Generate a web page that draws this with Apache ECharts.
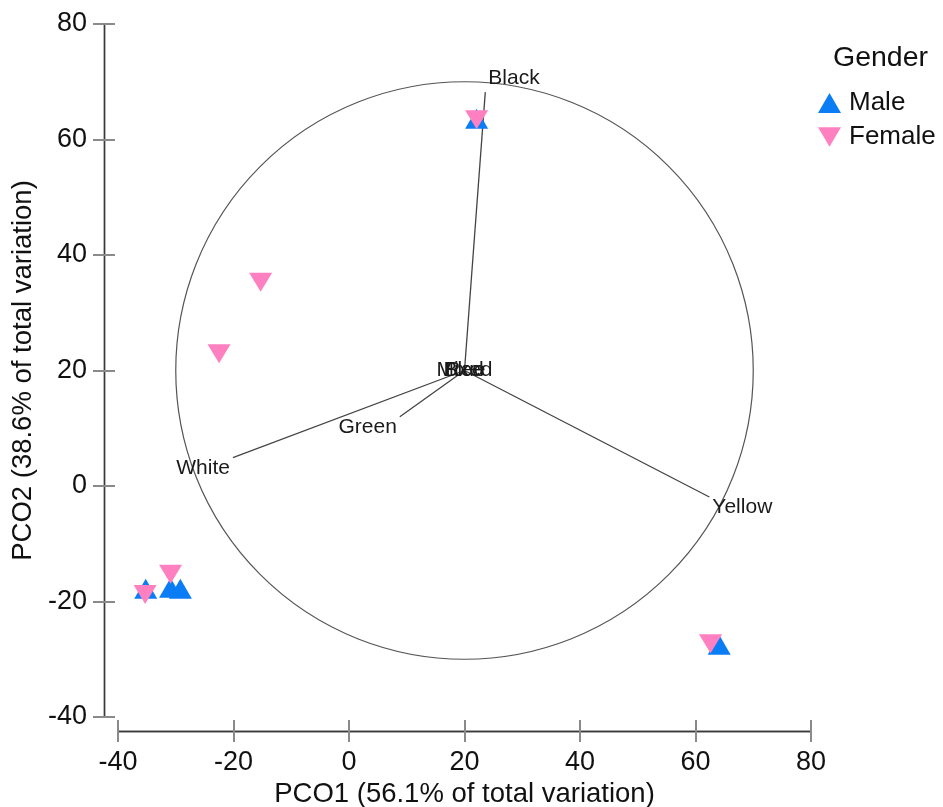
<!DOCTYPE html>
<html>
<head>
<meta charset="utf-8">
<script src="https://cdn.jsdelivr.net/npm/echarts@6/dist/echarts.min.js"></script>
<style>
  html, body { margin: 0; padding: 0; background: #ffffff; }
  #chart { width: 943px; height: 807px; }
</style>
</head>
<body>
<div id="chart"></div>
<script>
const FONT = '"Liberation Sans", Arial, sans-serif';

// PCO scores per sample, [PCO1, PCO2]
const malePoints = [[22.1, 63.6], [-35.2, -17.8], [-30.9, -17.6], [-29.2, -17.8], [64.1, -27.5]];
const femalePoints = [[22.1, 63.4], [-15.3, 35.3], [-22.5, 22.9], [-30.9, -15.3], [-35.3, -18.8], [62.6, -27.3]];

// Colour variables drawn as vectors from a common origin
const vectorNames = ['Black', 'White', 'Yellow', 'Green', 'Mixed', 'Blue', 'Red'];
const vectorEnds = [[23.6, 68.2], [-20.1, 4.9], [62.4, -1.9], [8.8, 12.0], [20, 20], [20, 20], [20, 20]];
const vectorOrigin = [20, 20];
// Reference circle: centre x, centre y, radius (axis units)
const circleSpec = [20, 20, 50];

// Axes
const xRange = [-40, 80];
const yRange = [-40, 80];
const tickStep = 20;
const xTitle = 'PCO1 (56.1% of total variation)';
const yTitle = 'PCO2 (38.6% of total variation)';
const groupNames = ['Male', 'Female'];
const legendTitle = 'Gender';

const AXIS_COLOR = '#3a3a3a';
const TICK_COLOR = '#8a8a8a';
const TEXT_COLOR = '#111111';
const MALE_COLOR = '#0a7df5';
const FEMALE_COLOR = '#ff80c0';
// Downward-pointing triangle used for the female group
const DOWN_TRIANGLE = 'path://M0,0L20,0L10,17Z';

// Each axis is drawn twice: once with outward ticks and labels, once with
// inward ticks, so every tick crosses the detached axis line.
function axisPair(range, offset, title, nameGap, labelMargin, position) {
  const base = {
    type: 'value',
    position: position,
    min: range[0],
    max: range[1],
    interval: tickStep,
    offset: offset,
    splitLine: { show: false },
    axisLine: { show: true, onZero: false, lineStyle: { color: AXIS_COLOR, width: 1.4 } }
  };
  return [
    Object.assign({}, base, {
      name: title,
      nameLocation: 'middle',
      nameGap: nameGap,
      nameTextStyle: { fontFamily: FONT, fontSize: 27.5, color: TEXT_COLOR },
      axisTick: { show: true, inside: false, length: 11, lineStyle: { color: TICK_COLOR, width: 2 } },
      axisLabel: { show: true, margin: labelMargin, fontFamily: FONT, fontSize: 27, color: TEXT_COLOR }
    }),
    Object.assign({}, base, {
      axisTick: { show: true, inside: true, length: 11, lineStyle: { color: TICK_COLOR, width: 2 } },
      axisLabel: { show: false }
    })
  ];
}

const chart = echarts.init(document.getElementById('chart'), null, { renderer: 'canvas' });

chart.setOption({
  animation: false,
  backgroundColor: '#ffffff',
  title: {
    text: legendTitle,
    left: 828,
    top: 39,
    textStyle: { fontFamily: FONT, fontSize: 28.5, fontWeight: 'normal', color: TEXT_COLOR }
  },
  legend: {
    data: groupNames,
    orient: 'vertical',
    left: 813,
    top: 85,
    itemWidth: 23,
    itemHeight: 20,
    itemGap: 8,
    textStyle: { fontFamily: FONT, fontSize: 26, lineHeight: 20, color: TEXT_COLOR, padding: [0, 0, 0, 3] }
  },
  grid: { left: 118, right: 132, top: 24, bottom: 90, outerBoundsMode: 'none', containLabel: false },
  xAxis: axisPair(xRange, 14, xTitle, 49, 18, 'bottom'),
  yAxis: axisPair(yRange, 14, yTitle, 58, 17, 'left'),
  series: [
    {
      name: 'circle',
      type: 'custom',
      silent: true,
      z: 1,
      data: [circleSpec],
      renderItem: function (params, api) {
        const c = api.coord([api.value(0), api.value(1)]);
        const s = api.size([api.value(2), api.value(2)]);
        return {
          type: 'circle',
          shape: { cx: c[0], cy: c[1], r: (s[0] + s[1]) / 2 },
          style: { fill: 'none', stroke: '#555555', lineWidth: 1.2 }
        };
      }
    },
    {
      name: 'vectors',
      type: 'custom',
      silent: true,
      z: 2,
      data: vectorEnds.map(function (e, i) { return { name: vectorNames[i], value: e }; }),
      renderItem: function (params, api) {
        const ex = api.value(0), ey = api.value(1);
        const o = api.coord(vectorOrigin);
        const e = api.coord([ex, ey]);
        const dx = ex - vectorOrigin[0], dy = ey - vectorOrigin[1];
        let align = 'center', vAlign = 'middle', tx = e[0], ty = e[1];
        if (dx !== 0 || dy !== 0) {
          align = dx >= 0 ? 'left' : 'right';
          vAlign = dy > 0 ? 'bottom' : 'top';
          tx += dx >= 0 ? 3 : -3;
          ty += dy > 0 ? -3 : 0;
        }
        return {
          type: 'group',
          children: [
            {
              type: 'line',
              shape: { x1: o[0], y1: o[1], x2: e[0], y2: e[1] },
              style: { stroke: '#444444', lineWidth: 1.3 }
            },
            {
              type: 'text',
              x: tx,
              y: ty,
              style: {
                text: vectorNames[params.dataIndex],
                fill: '#1a1a1a',
                fontFamily: FONT,
                fontSize: 21,
                align: align,
                verticalAlign: vAlign
              }
            }
          ]
        };
      }
    },
    {
      name: groupNames[0],
      type: 'scatter',
      z: 3,
      symbol: 'triangle',
      symbolSize: [23, 20],
      itemStyle: { color: MALE_COLOR, opacity: 1 },
      data: malePoints
    },
    {
      name: groupNames[1],
      type: 'scatter',
      z: 4,
      symbol: DOWN_TRIANGLE,
      symbolSize: [23, 19],
      itemStyle: { color: FEMALE_COLOR, opacity: 1 },
      data: femalePoints
    }
  ]
});
</script>
</body>
</html>
